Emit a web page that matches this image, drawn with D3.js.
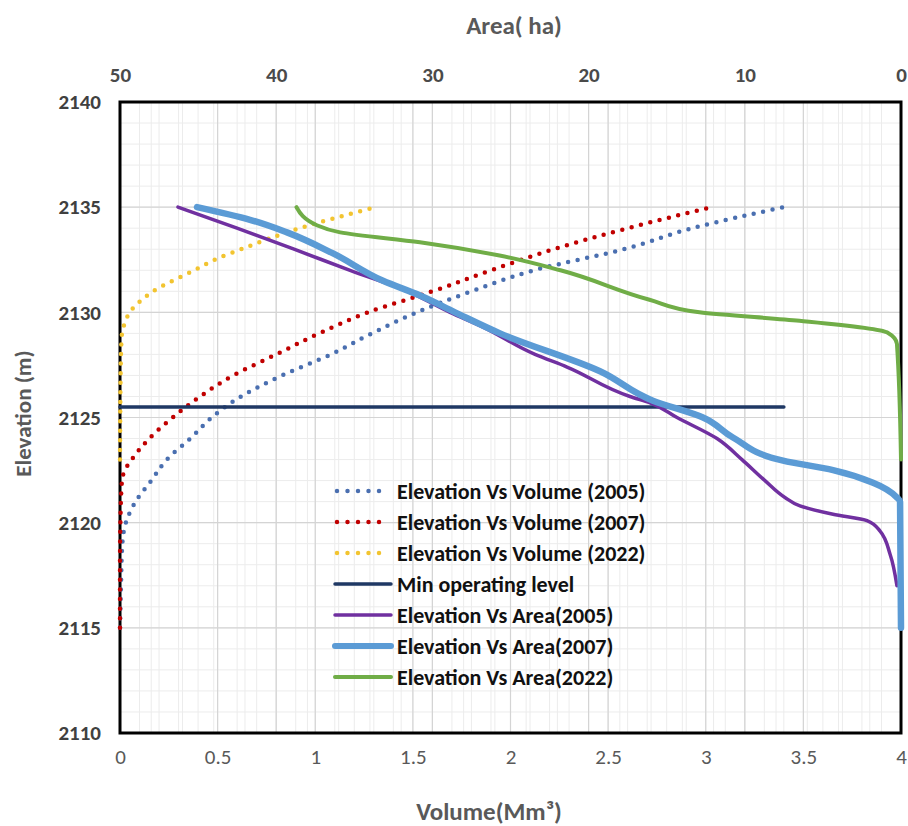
<!DOCTYPE html>
<html>
<head>
<meta charset="utf-8">
<script src="https://cdn.jsdelivr.net/npm/d3@7"></script>
<style>
  body { margin: 0; background: #fff; }
  svg { display: block; }
</style>
</head>
<body>
<div id="chart"></div>
<script>
// elevation (m) vs volume (Mm3)
var volElev2005 = [2115, 2117, 2119, 2120, 2121, 2122, 2123, 2124, 2125, 2126, 2127, 2128, 2129, 2130, 2131, 2132, 2133, 2134, 2135];
var volume2005  = [0, 0.005, 0.012, 0.03, 0.08, 0.16, 0.24, 0.36, 0.47, 0.62, 0.83, 1.08, 1.29, 1.52, 1.8, 2.12, 2.58, 2.93, 3.4];

var volElev2007 = [2115, 2118, 2120, 2122, 2122.5, 2123, 2124, 2125, 2126, 2127, 2128, 2129, 2130, 2131, 2132, 2133, 2134, 2135];
var volume2007  = [0, 0, 0.002, 0.01, 0.025, 0.06, 0.15, 0.27, 0.41, 0.58, 0.8, 1.02, 1.27, 1.6, 1.9, 2.22, 2.6, 3.03];

var volElev2022 = [2123, 2125, 2127, 2128, 2129, 2129.5, 2130, 2130.5, 2131, 2132, 2132.6, 2133, 2134, 2135];
var volume2022  = [0, 0.001, 0.003, 0.005, 0.01, 0.025, 0.05, 0.1, 0.17, 0.38, 0.51, 0.62, 0.92, 1.31];

// elevation (m) vs area (ha)
var areaElev2005 = [2117, 2118.5, 2119.6, 2120.1, 2120.4, 2120.8, 2121.2, 2122, 2123, 2124, 2125, 2125.7, 2126, 2127.4, 2128, 2129.3, 2130, 2131, 2132, 2133, 2134, 2135];
var area2005     = [0.26, 0.7, 1.34, 2.18, 4.35, 6.47, 7.43, 8.71, 10.18, 11.78, 14.34, 16.07, 17.35, 21.38, 23.43, 26.76, 28.87, 31.6, 35.27, 38.86, 42.51, 46.29];

var areaElev2007 = [2115, 2121, 2121.2, 2121.9, 2122.5, 2122.95, 2124.05, 2125, 2125.8, 2127.2, 2129, 2130, 2130.8, 2131.5, 2132.8, 2133.8, 2134.4, 2135];
var area2007     = [0, 0.06, 0.26, 1.79, 4.35, 7.55, 10.76, 12.68, 15.88, 19.27, 25.67, 28.55, 30.79, 33.16, 36.36, 39.31, 41.68, 45.07];

var areaElev2022 = [2123, 2128.5, 2129.05, 2129.6, 2130, 2130.6, 2132, 2132.7, 2133.33, 2133.8, 2134.14, 2135];
var area2022     = [0, 0.26, 0.9, 6.5, 12.9, 16.1, 21.8, 25.7, 30.8, 35.9, 37.4, 38.7];

var minOperatingLevel = 2125.5;
var minOperatingVolume = [0, 3.4];

var volumeTicks = [0, 0.5, 1, 1.5, 2, 2.5, 3, 3.5, 4];
var areaTicks = [50, 40, 30, 20, 10, 0];
var elevTicks = [2110, 2115, 2120, 2125, 2130, 2135, 2140];

var legendNames = ["Elevation Vs Volume (2005)", "Elevation Vs Volume (2007)", "Elevation Vs Volume (2022)",
                   "Min operating level", "Elevation Vs Area(2005)", "Elevation Vs Area(2007)", "Elevation Vs Area(2022)"];

var W = 908, H = 826;
var margin = {top: 102, right: 7, bottom: 93, left: 120};
var width = W - margin.left - margin.right,
    height = H - margin.top - margin.bottom;
var font = "Carlito, Calibri, Lato, 'Liberation Sans', Arial, sans-serif";

var svg = d3.select("#chart").append("svg")
    .attr("width", W).attr("height", H)
    .style("font-family", font);

var g = svg.append("g").attr("transform", "translate(" + margin.left + "," + margin.top + ")");

var x = d3.scaleLinear().domain([0, 4]).range([0, width]);
var xa = d3.scaleLinear().domain([50, 0]).range([0, width]);
var y = d3.scaleLinear().domain([2110, 2140]).range([height, 0]);

// minor grid
g.append("g").selectAll("line").data(d3.range(0, 4.001, 0.1)).enter().append("line")
  .attr("x1", d => x(d)).attr("x2", d => x(d)).attr("y1", 0).attr("y2", height)
  .attr("stroke", "#ececec").attr("stroke-width", 1);
g.append("g").selectAll("line").data(d3.range(0, 50.001, 2)).enter().append("line")
  .attr("x1", d => xa(d)).attr("x2", d => xa(d)).attr("y1", 0).attr("y2", height)
  .attr("stroke", "#ececec").attr("stroke-width", 1);
g.append("g").selectAll("line").data(d3.range(2110, 2140.001, 1)).enter().append("line")
  .attr("x1", 0).attr("x2", width).attr("y1", d => y(d)).attr("y2", d => y(d))
  .attr("stroke", "#ececec").attr("stroke-width", 1);
// major grid
g.append("g").selectAll("line").data(volumeTicks).enter().append("line")
  .attr("x1", d => x(d)).attr("x2", d => x(d)).attr("y1", 0).attr("y2", height)
  .attr("stroke", "#d4d4d4").attr("stroke-width", 1.2);
g.append("g").selectAll("line").data(areaTicks).enter().append("line")
  .attr("x1", d => xa(d)).attr("x2", d => xa(d)).attr("y1", 0).attr("y2", height)
  .attr("stroke", "#d4d4d4").attr("stroke-width", 1.2);
g.append("g").selectAll("line").data(elevTicks).enter().append("line")
  .attr("x1", 0).attr("x2", width).attr("y1", d => y(d)).attr("y2", d => y(d))
  .attr("stroke", "#d4d4d4").attr("stroke-width", 1.2);

// axes
var xAxis = g.append("g").attr("transform", "translate(0," + height + ")")
  .call(d3.axisBottom(x).tickValues(volumeTicks).tickSize(0).tickPadding(16).tickFormat(d3.format("")));
var xaAxis = g.append("g")
  .call(d3.axisTop(xa).tickValues(areaTicks).tickSize(0).tickPadding(20).tickFormat(d3.format("d")));
var yAxis = g.append("g")
  .call(d3.axisLeft(y).tickValues(elevTicks).tickSize(0).tickPadding(19).tickFormat(d3.format("d")));
[xAxis, xaAxis, yAxis].forEach(function(a) {
  a.select(".domain").remove();
  a.selectAll("text").attr("fill", "#595959").style("font-size", "21px").style("font-family", font);
});
xaAxis.selectAll("text").attr("fill", "#4a4a4a").style("font-weight", "bold");
yAxis.selectAll("text").attr("fill", "#404040").style("font-weight", "bold");

// plot border
g.append("rect").attr("x", 0).attr("y", 0).attr("width", width).attr("height", height)
  .attr("fill", "none").attr("stroke", "#000").attr("stroke-width", 3);

function zip(ev, vals) { return ev.map(function(e, i) { return {e: e, v: vals[i]}; }); }

var volLine = d3.line().x(d => x(d.v)).y(d => y(d.e)).curve(d3.curveMonotoneY);
var areaLine = d3.line().x(d => xa(d.v)).y(d => y(d.e)).curve(d3.curveMonotoneY);

var dotDash = "0 9.6";
var series = [
  {data: zip(volElev2005, volume2005), line: volLine, color: "#4a6fb0", w: 4.5, dots: true},
  {data: zip(volElev2007, volume2007), line: volLine, color: "#c00000", w: 4.5, dots: true},
  {data: zip(volElev2022, volume2022), line: volLine, color: "#f2c430", w: 4.5, dots: true},
  {data: minOperatingVolume.map(v => ({e: minOperatingLevel, v: v})), line: volLine, color: "#1f3864", w: 3.5},
  {data: zip(areaElev2005, area2005), line: areaLine, color: "#7030a0", w: 3.5},
  {data: zip(areaElev2007, area2007), line: areaLine, color: "#5b9bd5", w: 6.5},
  {data: zip(areaElev2022, area2022), line: areaLine, color: "#70ad47", w: 4}
];

var plot = g.append("g");
series.forEach(function(s) {
  plot.append("path").datum(s.data)
    .attr("d", s.line)
    .attr("fill", "none")
    .attr("stroke", s.color)
    .attr("stroke-width", s.w)
    .attr("stroke-linecap", "round")
    .attr("stroke-linejoin", "round")
    .attr("stroke-dasharray", s.dots ? dotDash : null);
});

// legend
var legend = svg.append("g").attr("transform", "translate(337,491)");
series.forEach(function(s, i) {
  var row = legend.append("g").attr("transform", "translate(0," + (i * 31) + ")");
  row.append("line").attr("x1", s.dots ? 0 : -2).attr("x2", s.dots ? 48 : 54)
    .attr("y1", 0).attr("y2", 0)
    .attr("stroke", s.color).attr("stroke-width", s.dots ? 4.5 : Math.min(s.w, 6))
    .attr("stroke-linecap", "round")
    .attr("stroke-dasharray", s.dots ? "0 10.5" : null);
  row.append("text").attr("x", 60).attr("y", 0).attr("dy", "0.35em")
    .attr("fill", "#111").style("font-size", "22px").style("font-weight", "bold")
    .text(legendNames[i]);
});

// axis titles
svg.append("text").attr("x", 514).attr("y", 34).attr("text-anchor", "middle")
  .attr("fill", "#595959").style("font-size", "25px").style("font-weight", "bold").text("Area( ha)");
svg.append("text").attr("text-anchor", "middle")
  .attr("transform", "translate(31," + (margin.top + height / 2 - 4) + ") rotate(-90)")
  .attr("fill", "#595959").style("font-size", "23px").style("font-weight", "bold").text("Elevation (m)");
svg.append("text").attr("x", 489).attr("y", 820).attr("text-anchor", "middle")
  .attr("fill", "#595959").style("font-size", "25px").style("font-weight", "bold").text("Volume(Mm³)");
</script>
</body>
</html>
